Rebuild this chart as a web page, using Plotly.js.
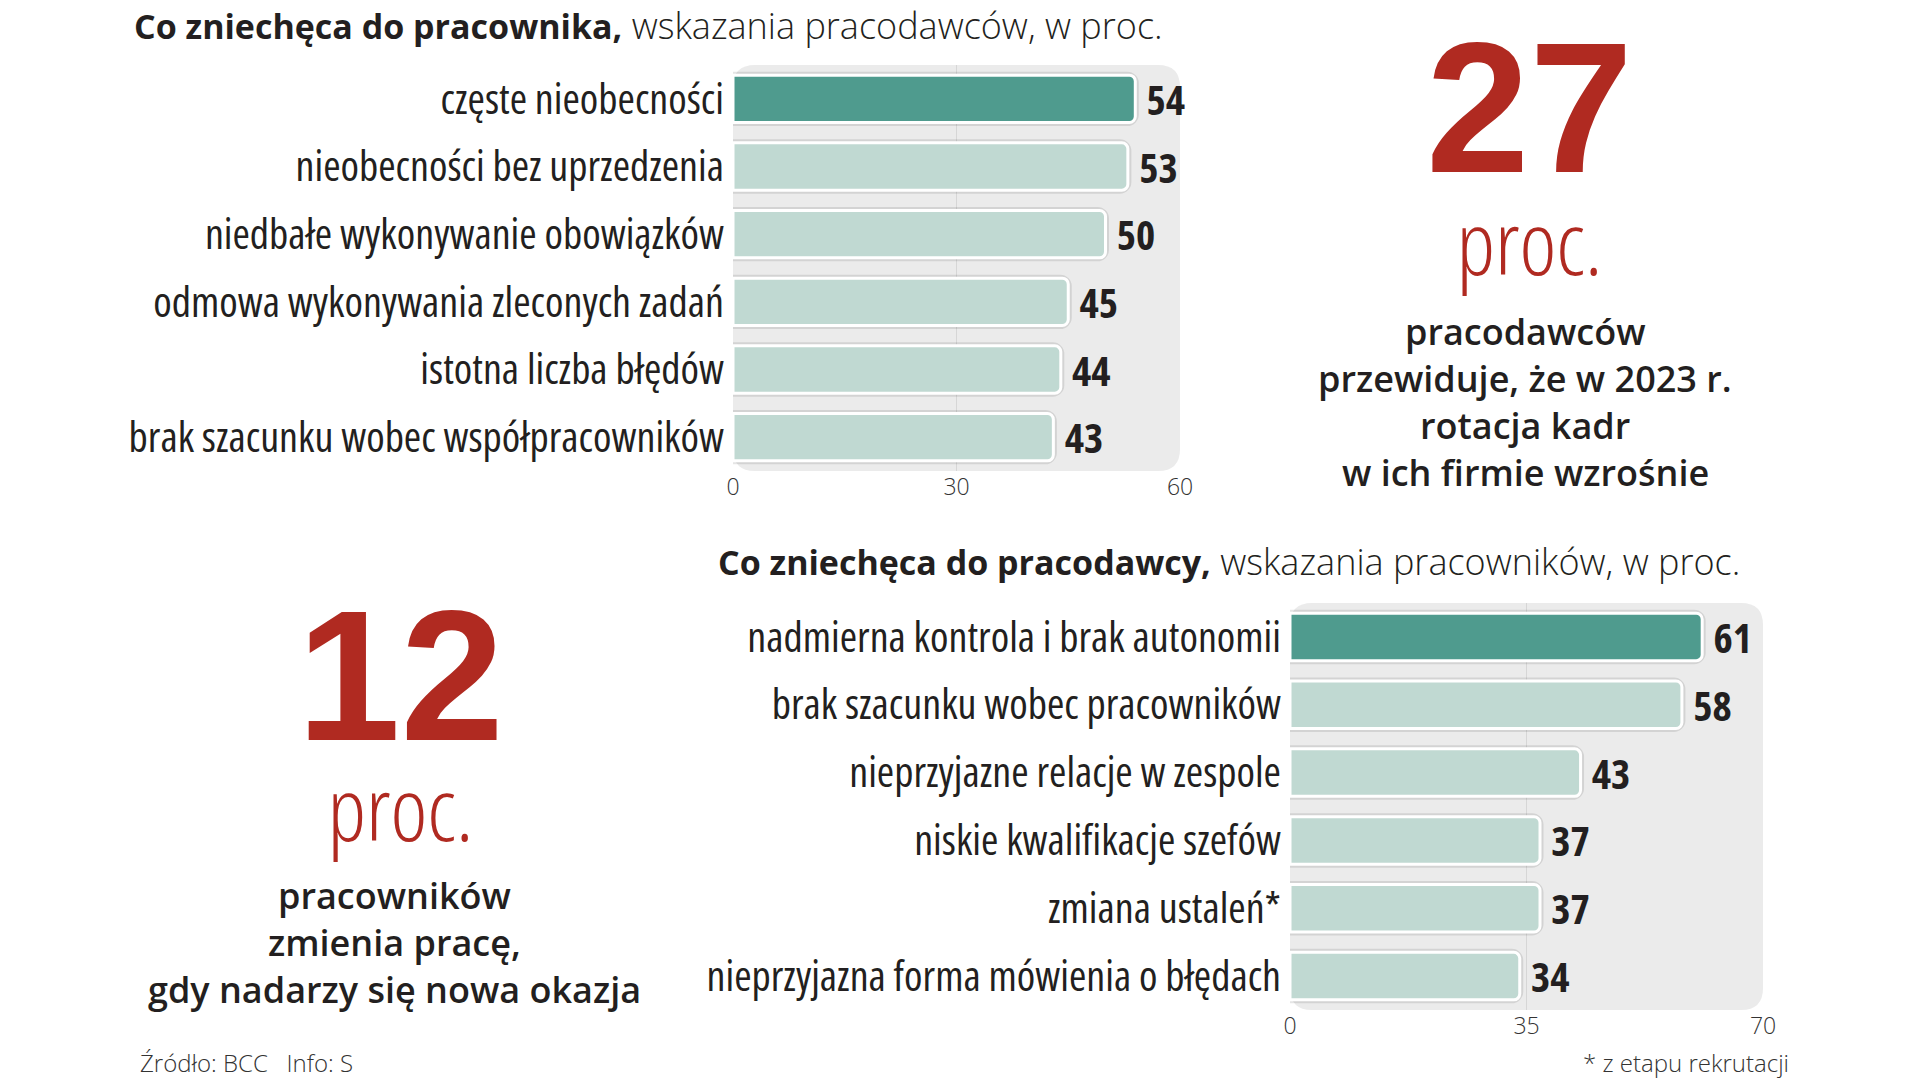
<!DOCTYPE html>
<html>
<head>
<meta charset="utf-8">
<script src="https://cdn.plot.ly/plotly-3.0.1.min.js"></script>
<style>
  html, body { margin: 0; padding: 0; background: #ffffff; }
  #chart { width: 1920px; height: 1080px; }
  #chart .ytick text, #chart .y2tick text { font-stretch: 75%; }
  #chart text.bartext { font-stretch: 75%; }
</style>
</head>
<body>
<div id="chart"></div>
<script>
// ---------- data ----------
const categoriesTop = [
  "częste nieobecności",
  "nieobecności bez uprzedzenia",
  "niedbałe wykonywanie obowiązków",
  "odmowa wykonywania zleconych zadań",
  "istotna liczba błędów",
  "brak szacunku wobec współpracowników"
];
const valuesTop = [54, 53, 50, 45, 44, 43];
const ticksTop = [0, 30, 60];

const categoriesBottom = [
  "nadmierna kontrola i brak autonomii",
  "brak szacunku wobec pracowników",
  "nieprzyjazne relacje w zespole",
  "niskie kwalifikacje szefów",
  "zmiana ustaleń*",
  "nieprzyjazna forma mówienia o błędach"
];
const valuesBottom = [61, 58, 43, 37, 37, 34];
const ticksBottom = [0, 35, 70];

const titleTopBold = "Co zniechęca do pracownika,";
const titleTopLight = " wskazania pracodawców, w proc.";
const titleBottomBold = "Co zniechęca do pracodawcy,";
const titleBottomLight = " wskazania pracowników, w proc.";

const bigRight = "27";
const bigRightLines = ["pracodawców", "przewiduje, że w 2023 r.", "rotacja kadr", "w ich firmie wzrośnie"];
const bigLeft = "12";
const bigLeftLines = ["pracowników", "zmienia pracę,", "gdy nadarzy się nowa okazja"];
const unitText = "proc.";
const sourceText = "Źródło: BCC   Info: S";
const noteText = "* z etapu rekrutacji";

// ---------- styles ----------
const W = 1920, H = 1080;
const px = x => x / W;
const py = y => 1 - y / H;
const DARK = "#4f9b8e", LIGHT = "#c0d9d2", PANEL = "#ebebeb", RED = "#b02a21", INK = "#231f20";
const COND = "Open Sans, Noto Sans, sans-serif";
const SANS = "Open Sans, Noto Sans, sans-serif";

function colors(n) { return Array.from({length: n}, (_, i) => i === 0 ? DARK : LIGHT); }

function barPair(vals, cats, xa, ya) {
  const shadow = {
    type: "bar", orientation: "h", x: vals, y: cats, xaxis: xa, yaxis: ya,
    marker: { color: "rgba(0,0,0,0)", line: { color: "rgba(0,0,0,0.10)", width: 7 }, cornerradius: 8 },
    hoverinfo: "skip", showlegend: false
  };
  const main = {
    type: "bar", orientation: "h", x: vals, y: cats, xaxis: xa, yaxis: ya,
    marker: { color: colors(vals.length), line: { color: "#ffffff", width: 3 }, cornerradius: 6 },
    text: vals.map(v => "\u200a" + v), textposition: "outside", cliponaxis: false, constraintext: "none",
    textfont: { family: COND, size: 41, color: INK, weight: 700 },
    hoverinfo: "skip", showlegend: false
  };
  return [shadow, main];
}

const data = [
  ...barPair(valuesTop, categoriesTop, "x", "y"),
  ...barPair(valuesBottom, categoriesBottom, "x2", "y2")
];

// plot areas (px)
const A1 = { x0: 733, x1: 1180, y0: 65, y1: 471 };
const A2 = { x0: 1290, x1: 1763, y0: 603, y1: 1010 };

function roundedPanel(a, r) {
  const x0 = px(a.x0), x1 = px(a.x1), yt = py(a.y0), yb = py(a.y1);
  const rx = r / W, ry = r / H;
  const p = `M ${x0 + rx},${yt} L ${x1 - rx},${yt} Q ${x1},${yt} ${x1},${yt - ry} ` +
            `L ${x1},${yb + ry} Q ${x1},${yb} ${x1 - rx},${yb} L ${x0 + rx},${yb} ` +
            `Q ${x0},${yb} ${x0},${yb + ry} L ${x0},${yt - ry} Q ${x0},${yt} ${x0 + rx},${yt} Z`;
  return { type: "path", xref: "paper", yref: "paper", path: p, fillcolor: PANEL, line: { width: 0 }, layer: "below" };
}

function xAxis(a, ticks) {
  return {
    domain: [px(a.x0), px(a.x1)], range: [ticks[0], ticks[ticks.length - 1]],
    tickmode: "array", tickvals: ticks, ticks: "", showgrid: false, zeroline: false, showline: false,
    minor: { tickmode: "array", tickvals: [ticks[1]], showgrid: true, gridcolor: "#d6d6d6", gridwidth: 1, ticks: "" },
    tickfont: { family: SANS, size: 23, color: "#333333", weight: 300 }, fixedrange: true
  };
}
function yAxis(a, cats, anchor) {
  return {
    domain: [py(a.y1), py(a.y0)], type: "category", categoryarray: cats, autorange: "reversed",
    ticks: "", showgrid: false, zeroline: false, showline: false, anchor: anchor,
    tickfont: { family: COND, size: 42, color: INK }, fixedrange: true, ticklabelstandoff: 8
  };
}

const annotations = [];
function ann(text, x, y, font, opts = {}) {
  const xanchor = opts.xanchor || "center";
  const a = { text, x: px(x), y: py(y), xref: "paper", yref: "paper", showarrow: false,
    xanchor, yanchor: opts.yanchor || "middle", font,
    align: xanchor === "right" ? "right" : (xanchor === "left" ? "left" : "center") };
  if (opts.borderpad !== undefined) a.borderpad = opts.borderpad;
  annotations.push(a);
}

// titles
ann(`<b>${titleTopBold}</b><span style="font-weight:300;font-size:36px">${titleTopLight}</span>`, 133, 0,
    { family: SANS, size: 34, color: INK }, { xanchor: "left", yanchor: "top", borderpad: 0 });
ann(`<b>${titleBottomBold}</b><span style="font-weight:300;font-size:36px">${titleBottomLight}</span>`, 716, 561,
    { family: SANS, size: 34, color: INK }, { xanchor: "left" });

// big number + unit as one two-line block
function bigBlock(num) {
  return `<span style="font-family:'Liberation Sans',Arial,sans-serif;font-size:186px;font-weight:700">${num}</span>` +
         `<br><span style="font-size:88px;font-weight:300;font-stretch:75%">${unitText}</span>`;
}
ann(bigBlock(bigRight), 1529, 153, { family: COND, size: 79, color: RED });
bigRightLines.forEach((t, i) => ann(t, 1525, 331 + i * 47, { family: SANS, size: 36, color: INK, weight: 600 }));

ann(bigBlock(bigLeft), 400, 719, { family: COND, size: 78, color: RED });
bigLeftLines.forEach((t, i) => ann(t, 394, 895 + i * 47, { family: SANS, size: 36, color: INK, weight: 600 }));

// footer
ann(sourceText, 139, 1080, { family: SANS, size: 24, color: "#333333", weight: 300 }, { xanchor: "left", yanchor: "bottom", borderpad: 0 });
ann(noteText, 1790, 1080, { family: SANS, size: 24, color: "#333333", weight: 300 }, { xanchor: "right", yanchor: "bottom", borderpad: 0 });

const layout = {
  width: W, height: H, margin: { l: 0, r: 0, t: 0, b: 0 },
  paper_bgcolor: "#ffffff", plot_bgcolor: "rgba(0,0,0,0)",
  barmode: "overlay", bargap: 0.3, showlegend: false,
  xaxis: xAxis(A1, ticksTop), yaxis: yAxis(A1, categoriesTop, "x"),
  xaxis2: Object.assign(xAxis(A2, ticksBottom), { anchor: "y2" }),
  yaxis2: yAxis(A2, categoriesBottom, "x2"),
  shapes: [roundedPanel(A1, 22), roundedPanel(A2, 22)],
  annotations
};

Plotly.newPlot("chart", data, layout, { displayModeBar: false, staticPlot: true });
</script>
</body>
</html>
